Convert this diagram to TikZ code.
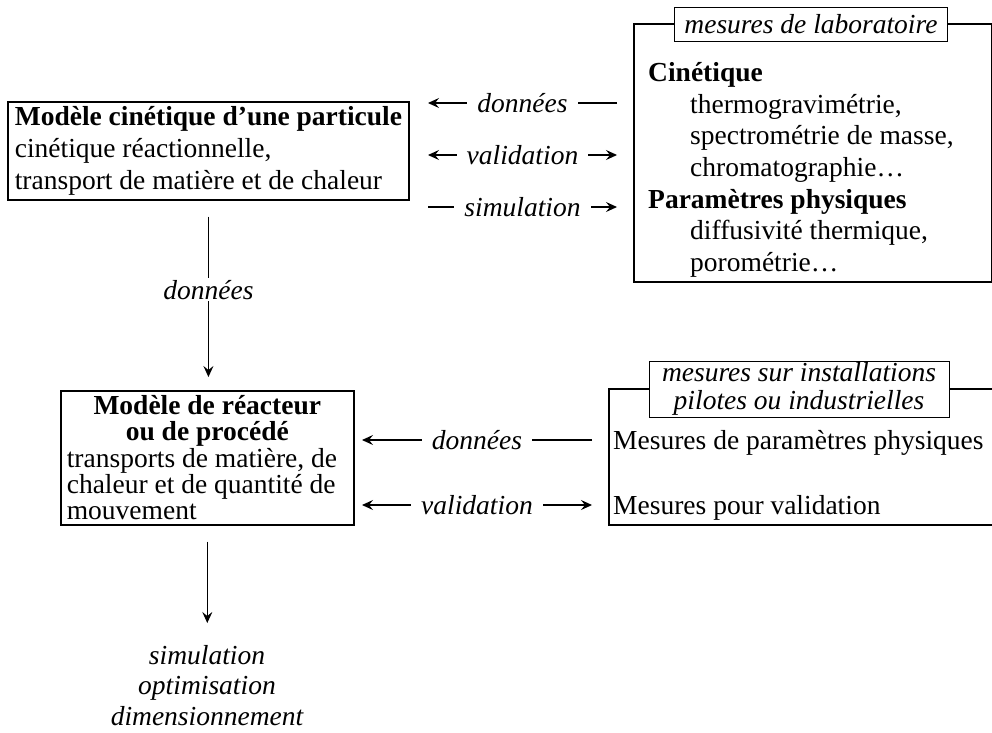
\documentclass[tikz,border=0pt]{standalone}
\usepackage{fontspec}
\setmainfont{Liberation Serif}
\usetikzlibrary{arrows.meta}
\usetikzlibrary{calc}

\tikzset{
  boite/.style={draw, line width=1.6pt, inner sep=0pt},
  titre/.style={draw, line width=0.9pt, fill=white, font=\itshape, align=center, inner xsep=10pt, inner ysep=1.5pt, minimum height=34},
  fleche/.style={line width=1.2pt, -{Stealth[length=11pt,width=10pt,inset=4pt]}},
  double/.style={line width=1.2pt, {Stealth[length=11pt,width=10pt,inset=4pt]}-{Stealth[length=11pt,width=10pt,inset=4pt]}},
  etiq/.style={fill=white, font=\itshape, inner xsep=10pt, inner ysep=2pt},
}

\begin{document}
\fontsize{27.5}{31.7}\selectfont
\begin{tikzpicture}[x=1pt,y=-1pt]
    \clip (0,0) rectangle (992,732);
    % modeles
    \node[boite, anchor=north west, minimum width=401, minimum height=98, align=left, inner xsep=7pt] (modpart) at (7,101)
        {\textbf{Modèle cinétique d’une particule}\\cinétique réactionnelle,\\transport de matière et de chaleur};
    \node[boite, anchor=north west, minimum width=293, minimum height=134, align=left, inner xsep=6pt,
        font=\fontsize{27.5}{26.3}\selectfont] (modreac) at (60,390)
        {\makebox[281pt]{\bfseries Modèle de réacteur}\\\makebox[281pt]{\bfseries ou de procédé}\\transports de matière, de\\chaleur et de quantité de\\mouvement};
    \node[font=\itshape\fontsize{27.5}{30.5}\selectfont, align=center, anchor=north, inner sep=0pt] (sortie) at (207,645)
        {simulation\\optimisation\\dimensionnement};

    % mesures
    \node[boite, anchor=north west, minimum width=358, minimum height=258] (labo) at (633,23) {};
    \node[titre] (labotitre) at (811,24) {mesures de laboratoire};
    \node[anchor=north west, align=left, inner sep=0pt] (labotexte) at (648,62)
        {\textbf{Cinétique}\\
         \hspace*{42pt}thermogravimétrie,\\
         \hspace*{42pt}spectrométrie de masse,\\
         \hspace*{42pt}chromatographie…\\
         \textbf{Paramètres physiques}\\
         \hspace*{42pt}diffusivité thermique,\\
         \hspace*{42pt}porométrie…};

    \node[boite, anchor=north west, minimum width=400, minimum height=136] (pilote) at (608,388) {};
    \node[titre, inner xsep=13pt, minimum height=56, font=\itshape\fontsize{27.5}{28}\selectfont] (pilotetitre) at (799,389)
        {mesures sur installations\\pilotes ou industrielles};
    \node[anchor=base west, inner sep=0pt] (mesphys) at (613,449) {Mesures de paramètres physiques};
    \node[anchor=base west, inner sep=0pt] (mesvalid) at (613,514) {Mesures pour validation};

    % liaisons
    \coordinate (a1) at (428,103);
    \coordinate (b1) at (617,103);
    \coordinate (a2) at (428,155);
    \coordinate (b2) at (617,155);
    \coordinate (a3) at (428,207);
    \coordinate (b3) at (617,207);
    \draw[fleche] (b1) -- node[etiq] {données} (a1);
    \draw[double] (a2) -- node[etiq] {validation} (b2);
    \draw[fleche] (a3) -- node[etiq] {simulation} (b3);

    \coordinate (c1) at (362,440);
    \coordinate (d1) at (592,440);
    \coordinate (c2) at (362,505);
    \coordinate (d2) at (592,505);
    \draw[fleche] (d1) -- node[etiq] {données} (c1);
    \draw[double] (c2) -- node[etiq] {validation} (d2);

    \draw[fleche, shorten <=16pt, shorten >=13pt] (modpart.south) -- node[etiq, pos=0.47] {données} (modpart.south |- modreac.north);
    \draw[fleche, shorten <=16pt, shorten >=22pt] (modreac.south) -- (modreac.south |- sortie.north);
\end{tikzpicture}
\end{document}
